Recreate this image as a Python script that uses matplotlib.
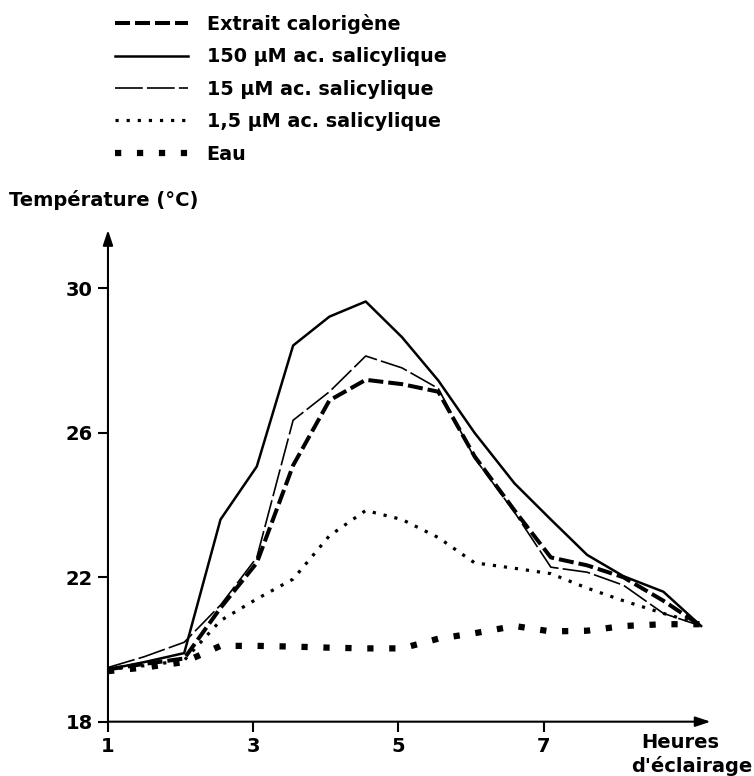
import numpy as np
import matplotlib
matplotlib.use("Agg")
import matplotlib.pyplot as plt

# hours of lighting (x) and temperatures (deg C)
hours = [1.0, 1.5, 2.05, 2.55, 3.05, 3.55, 4.05, 4.55, 5.05, 5.55,
         6.05, 6.6, 7.1, 7.6, 8.1, 8.65, 9.17]

extrait = [19.45, 19.6, 19.75, 21.15, 22.4, 25.1, 26.9, 27.47, 27.35, 27.14,
           25.35, 23.85, 22.55, 22.33, 22.0, 21.35, 20.65]
sa_150 = [19.45, 19.65, 19.9, 23.6, 25.07, 28.42, 29.22, 29.64, 28.65, 27.45,
          26.0, 24.6, 23.6, 22.62, 22.03, 21.6, 20.65]
sa_15 = [19.5, 19.8, 20.2, 21.23, 22.55, 26.35, 27.14, 28.13, 27.8, 27.23,
         25.3, 23.8, 22.28, 22.14, 21.78, 21.0, 20.65]
sa_1_5 = [19.45, 19.55, 19.7, 20.8, 21.4, 21.95, 23.15, 23.85, 23.6, 23.1,
          22.4, 22.25, 22.1, 21.7, 21.35, 21.0, 20.7]
eau = [19.4, 19.5, 19.65, 20.1, 20.1, 20.08, 20.05, 20.03, 20.03, 20.3,
       20.45, 20.65, 20.5, 20.52, 20.65, 20.7, 20.7]

labels = ["Extrait calorigène", "150 µM ac. salicylique", "15 µM ac. salicylique",
          "1,5 µM ac. salicylique", "Eau"]
xticks = [1, 3, 5, 7]
yticks = [18, 22, 26, 30]

plt.rcParams['font.family'] = 'DejaVu Sans'
plt.rcParams['font.weight'] = 'bold'
plt.rcParams['lines.scale_dashes'] = False

fig = plt.figure(figsize=(7.54, 7.76), dpi=100)
ax = fig.add_axes([0.1432, 0.0700, 0.7992, 0.6336])

ax.plot(hours, extrait, color='k', lw=2.9, dashes=(10.8, 3.6), label=labels[0])
ax.plot(hours, sa_150, color='k', lw=1.8, label=labels[1])
ax.plot(hours, sa_15, color='k', lw=1.2, dashes=(20, 3), label=labels[2])
ax.plot(hours, sa_1_5, color='k', lw=2.3, dashes=(2.3, 5.7), label=labels[3])
ax.plot(hours, eau, color='k', lw=4.5, dashes=(4.5, 11.3), label=labels[4])

ax.set_xlim(1, 9.3)
ax.set_ylim(18, 31.62)
ax.set_xticks(xticks)
ax.set_yticks(yticks)
ax.tick_params(direction='out', length=7, width=1.5, labelsize=14, pad=4)
for lab in ax.get_xticklabels() + ax.get_yticklabels():
    lab.set_fontweight('bold')

for s in ['top', 'right', 'left', 'bottom']:
    ax.spines[s].set_visible(False)

# axes with arrow heads
arrow = dict(arrowstyle='-|>,head_length=0.9,head_width=0.3', color='k', lw=1.5,
             shrinkA=0, shrinkB=0)
ax.annotate('', xy=(1.0, 0), xytext=(0, 0), xycoords='axes fraction', arrowprops=arrow)
ax.annotate('', xy=(0, 1.0), xytext=(0, 0), xycoords='axes fraction', arrowprops=arrow)

fig.text(0.012, 0.742, "Température (°C)", fontsize=14, fontweight='bold',
         ha='left', va='center')
fig.text(0.902, 0.043, "Heures", fontsize=14, fontweight='bold', ha='center', va='center')
fig.text(0.917, 0.013, "d'éclairage", fontsize=14, fontweight='bold', ha='center', va='center')

leg = fig.legend(loc='upper left', bbox_to_anchor=(0.142, 0.992), frameon=False,
                 fontsize=13.8, handlelength=3.8, handletextpad=1.0, labelspacing=0.7,
                 borderaxespad=0)
for t in leg.get_texts():
    t.set_fontweight('bold')

fig.savefig("out.png", dpi=100)
